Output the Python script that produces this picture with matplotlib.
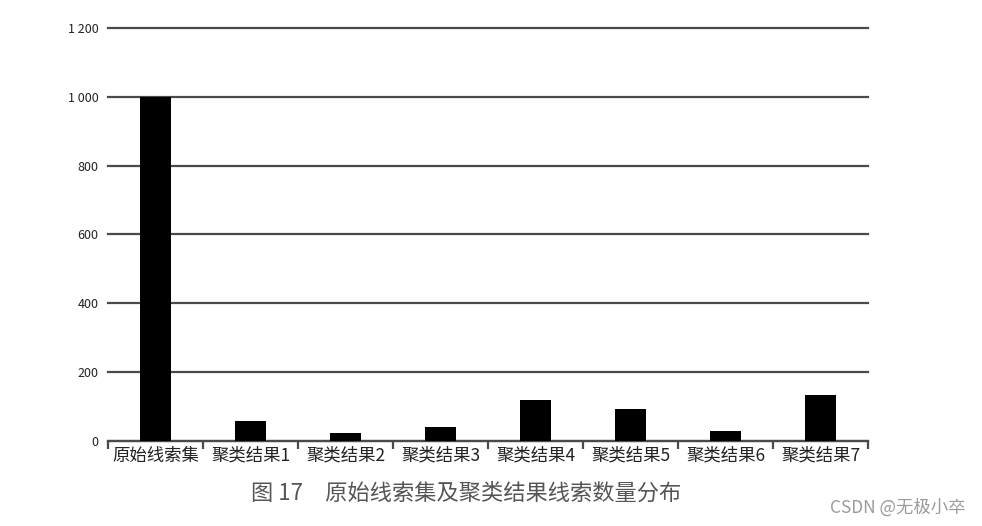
import numpy as np
import matplotlib.pyplot as plt
from matplotlib.ticker import FuncFormatter

plt.rcParams['font.family'] = ['Noto Sans CJK SC', 'DejaVu Sans']

# data
categories = ["原始线索集", "聚类结果1", "聚类结果2", "聚类结果3",
              "聚类结果4", "聚类结果5", "聚类结果6", "聚类结果7"]
counts = [1000, 58, 22, 41, 119, 94, 29, 135]
yticks = [0, 200, 400, 600, 800, 1000, 1200]

fig = plt.figure(figsize=(9.82, 5.26), dpi=100)
ax = fig.add_axes([0.110, 0.1616, 0.774, 0.7852])

x = np.arange(len(categories))
ax.bar(x, counts, width=0.32, color="black", zorder=3)

ax.set_xlim(-0.5, len(categories) - 0.5)
ax.set_ylim(0, 1200)
ax.set_yticks(yticks)
ax.yaxis.set_major_formatter(FuncFormatter(lambda v, p: f"{int(v):,}".replace(",", " ")))
ax.grid(axis="y", color="#4a4a4a", linewidth=1.6, zorder=1)
for gl in ax.get_ygridlines():
    gl.set_clip_on(False)

for s in ["top", "right", "left"]:
    ax.spines[s].set_visible(False)
ax.spines["bottom"].set_color("#4a4a4a")
ax.spines["bottom"].set_linewidth(1.6)

ax.set_xticks(x)
ax.set_xticklabels(categories, fontsize=12.5, fontweight="medium", color="#222222")
ax.tick_params(axis="x", which="major", length=0, pad=4)
ax.set_xticks(np.arange(-0.5, len(categories)), minor=True)
ax.tick_params(axis="x", which="minor", length=6, width=1.6, color="#4a4a4a")
ax.tick_params(axis="y", length=0, labelsize=9, pad=7, labelcolor="#222222")

fig.text(0.475, 0.062, "图 17　原始线索集及聚类结果线索数量分布",
         ha="center", va="center", fontsize=16, color="#555555")
fig.text(0.983, 0.035, "CSDN @无极小卒", ha="right", va="center",
         fontsize=12.5, color="#9a9a9a")

fig.savefig("out.png", dpi=100)
